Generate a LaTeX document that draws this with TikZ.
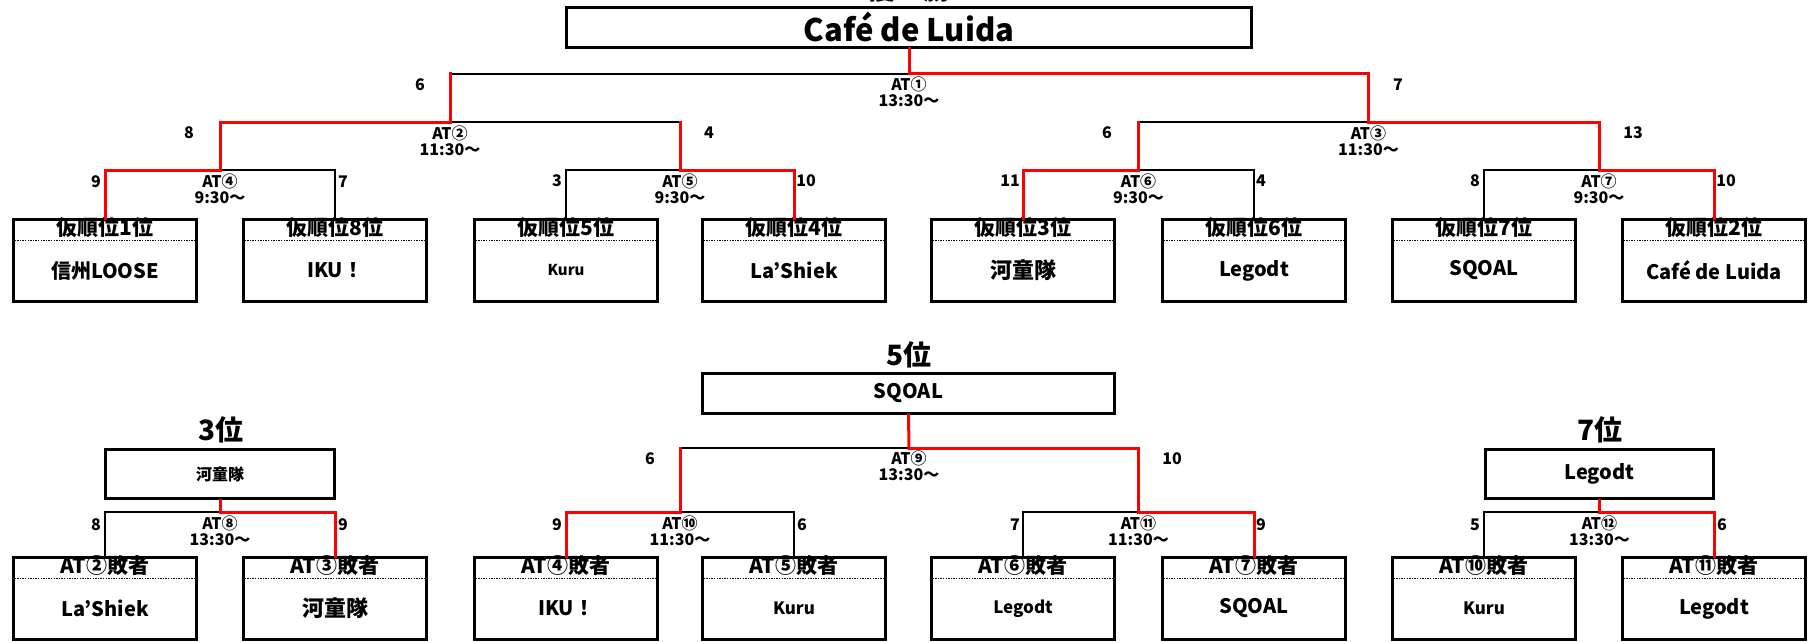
\documentclass[tikz,border=0pt]{standalone}
\usepackage{fontspec}
\setmainfont{Noto Sans CJK JP}
\usetikzlibrary{calc}
\newcommand\fsz[1]{\fontsize{#1}{#1}\selectfont}
\tikzset{
  teambox/.style={draw, line width=3pt, minimum width=183pt, minimum height=82pt, inner sep=0pt},
  bigbox/.style={draw, line width=3pt, inner sep=0pt},
  dotline/.style={line width=1.3pt, dash pattern=on 1.4pt off 1.2pt},
  hdr/.style={font=\bfseries\fsz{21}, inner sep=0pt},
  win/.style={draw=red, line width=3pt, line cap=rect},
  lose/.style={draw=black, line width=1.6pt},
  score/.style={font=\bfseries\fsz{16}, inner sep=0pt},
  attext/.style={font=\bfseries\fsz{16}, align=center, inner sep=0pt},
  title/.style={font=\bfseries\fsz{28}, inner sep=0pt},
}
\newcommand\tbox[6]{%
  \node[teambox] (#1) at (#2,#3) {};
  \draw[dotline] ([yshift=-22.5pt]#1.north west) -- ([yshift=-22.5pt]#1.north east);
  \node[hdr] (#1h) at ([yshift=-10pt]#1.north) {#4};
  \node[font=\bfseries\fsz{#6}, inner sep=0pt] (#1n) at ([yshift=-52.5pt]#1.north) {#5};
}
\begin{document}
\begin{tikzpicture}[x=1pt,y=-1pt]
\useasboundingbox (0,0) rectangle (1810,642);
% titles
\node[title, anchor=south] (tchamp) at (909,3) {優　勝};
\node[title] (t5) at (909,355) {5位};
\node[title] (t3) at (221,430) {3位};
\node[title] (t7) at (1600,430) {7位};
% champion and place boxes
\node[bigbox, minimum width=685pt, minimum height=40pt] (champ) at (909,27.5) {};
\node[font=\bfseries\fsz{31}, inner sep=0pt] (champn) at (909,27) {Café de Luida};
\node[bigbox, minimum width=412pt, minimum height=40pt] (fifth) at (908.5,393.5) {};
\node[font=\bfseries\fsz{20}, inner sep=0pt] (fifthn) at (908.5,393.5) {SQOAL};
\node[bigbox, minimum width=229pt, minimum height=49pt] (third) at (220,474) {};
\node[font=\bfseries\fsz{16}, inner sep=0pt] (thirdn) at (220,474) {河童隊};
\node[bigbox, minimum width=228pt, minimum height=49pt] (seventh) at (1599.5,474) {};
\node[font=\bfseries\fsz{20}, inner sep=0pt] (seventhn) at (1599.5,474) {Legodt};
% top row boxes
\tbox{b1}{105}{260.5}{仮順位1位}{信州LOOSE}{20}
\tbox{b2}{335}{260.5}{仮順位8位}{IKU！}{20}
\tbox{b3}{566}{260.5}{仮順位5位}{Kuru}{15}
\tbox{b4}{794}{260.5}{仮順位4位}{La’Shiek}{20}
\tbox{b5}{1023}{260.5}{仮順位3位}{河童隊}{22}
\tbox{b6}{1254}{260.5}{仮順位6位}{Legodt}{20}
\tbox{b7}{1484}{260.5}{仮順位7位}{SQOAL}{20}
\tbox{b8}{1714}{260.5}{仮順位2位}{Café de Luida}{20}
% bottom row boxes
\tbox{c1}{105}{598.5}{AT②敗者}{La’Shiek}{20}
\tbox{c2}{335}{598.5}{AT③敗者}{河童隊}{22}
\tbox{c3}{566}{598.5}{AT④敗者}{IKU！}{20}
\tbox{c4}{794}{598.5}{AT⑤敗者}{Kuru}{17}
\tbox{c5}{1023}{598.5}{AT⑥敗者}{Legodt}{17}
\tbox{c6}{1254}{598.5}{AT⑦敗者}{SQOAL}{20}
\tbox{c7}{1484}{598.5}{AT⑩敗者}{Kuru}{17}
\tbox{c8}{1714}{598.5}{AT⑪敗者}{Legodt}{20}
% junctions
\coordinate (j1) at (909,74);
\coordinate (j2) at (450,122);
\coordinate (j3) at (1368.5,122);
\coordinate (j4) at (220,170);
\coordinate (j5) at (680,170);
\coordinate (j6) at (1138.5,170);
\coordinate (j7) at (1599,170);
\coordinate (j8) at (220,512);
\coordinate (j9) at (909,448);
\coordinate (j10) at (680,512);
\coordinate (j11) at (1138.5,512);
\coordinate (j12) at (1599.5,512);
% losing branches (black)
\draw[lose] (j1) -- (j1 -| j2);
\draw[lose] (j2) -- (j2 -| j5);
\draw[lose] (j3) -- (j3 -| j6);
\draw[lose] (j4) -| (b2.north);
\draw[lose] (j5) -| (b3.north);
\draw[lose] (j6) -| (b6.north);
\draw[lose] (j7) -| (b7.north);
\draw[lose] (j8) -| (c1.north);
\draw[lose] (j9) -- (j9 -| j10);
\draw[lose] (j10) -| (c4.north);
\draw[lose] (j11) -| (c5.north);
\draw[lose] (j12) -| (c7.north);
% winning paths (red)
\draw[win] (champ.south) -- (j1);
\draw[win] (j1) -| (j3);
\draw[win] (j1 -| j2) -- (j2);
\draw[win] (j2) -| (j4);
\draw[win] (j2 -| j5) -- (j5);
\draw[win] (j3 -| j6) -- (j6);
\draw[win] (j3) -| (j7);
\draw[win] (j4) -| (b1.north);
\draw[win] (j5) -| (b4.north);
\draw[win] (j6) -| (b5.north);
\draw[win] (j7) -| (b8.north);
\draw[win] (third.south) -- (j8);
\draw[win] (j8) -| (c2.north);
\draw[win] (fifth.south) -- (j9);
\draw[win] (j9 -| j10) -- (j10);
\draw[win] (j9) -| (j11);
\draw[win] (j10) -| (c3.north);
\draw[win] (j11) -| (c6.north);
\draw[win] (seventh.south) -- (j12);
\draw[win] (j12) -| (c8.north);
% match labels
\node[attext] (a1) at (909,92) {AT①\\13:30～};
\node[attext] (a2) at (450,141) {AT②\\11:30～};
\node[attext] (a3) at (1368.5,141) {AT③\\11:30～};
\node[attext] (a4) at (220,189) {AT④\\9:30～};
\node[attext] (a5) at (680,189) {AT⑤\\9:30～};
\node[attext] (a6) at (1138.5,189) {AT⑥\\9:30～};
\node[attext] (a7) at (1599,189) {AT⑦\\9:30～};
\node[attext] (a9) at (909,466) {AT⑨\\13:30～};
\node[attext] (a8) at (220,531) {AT⑧\\13:30～};
\node[attext] (a10) at (680,531) {AT⑩\\11:30～};
\node[attext] (a11) at (1138.5,531) {AT⑪\\11:30～};
\node[attext] (a12) at (1599.5,531) {AT⑫\\13:30～};
% scores
\node[score] at (420,85) {6};
\node[score] at (1398,85) {7};
\node[score] at (189,133) {8};
\node[score] at (709,133) {4};
\node[score] at (1107,133) {6};
\node[score] at (1633,133) {13};
\node[score] at (96,182) {9};
\node[score] at (343,182) {7};
\node[score] at (557,181) {3};
\node[score] at (806,181) {10};
\node[score] at (1010,181) {11};
\node[score] at (1261,181) {4};
\node[score] at (1475,181) {8};
\node[score] at (1726,181) {10};
\node[score] at (96,525) {8};
\node[score] at (343,525) {9};
\node[score] at (650,459) {6};
\node[score] at (1172,459) {10};
\node[score] at (557,525) {9};
\node[score] at (802,525) {6};
\node[score] at (1015,525) {7};
\node[score] at (1261,525) {9};
\node[score] at (1475,525) {5};
\node[score] at (1722,525) {6};
\end{tikzpicture}
\end{document}
